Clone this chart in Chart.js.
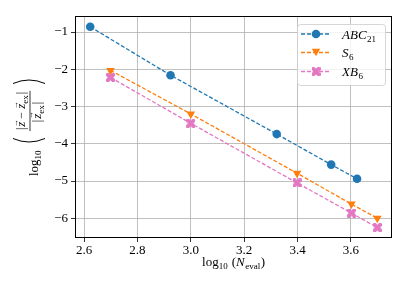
<!DOCTYPE html>
<html>
<head>
<meta charset="utf-8">
<script src="https://cdn.jsdelivr.net/npm/chart.js@4.4.0/dist/chart.umd.min.js"></script>
<style>
  html, body { margin: 0; padding: 0; background: #fff; }
  canvas { display: block; }
</style>
</head>
<body>
<canvas id="errChart" width="409" height="290"></canvas>
<script>
// log10(N_eval) for each method
var logNAbc = [2.623, 2.924, 3.322, 3.526, 3.623];
var logNS = [2.699, 3.0, 3.398, 3.602, 3.699];
// log10 of the relative error
var errAbc = [-0.86, -2.16, -3.74, -4.56, -4.94];
var errS6 = [-2.03, -3.20, -4.79, -5.62, -6.00];
var errXB6 = [-2.22, -3.45, -5.05, -5.86, -6.25];

var xTicks = [2.6, 2.8, 3.0, 3.2, 3.4, 3.6];
var yTicks = [-1, -2, -3, -4, -5, -6];
// legend names: [base, subscript]
var names = [['ABC', '21'], ['S', '6'], ['XB', '6']];
var colors = ['#1f77b4', '#ff7f0e', '#e377c2'];

var serif = 'Liberation Serif';
function F(size, italic) {
    return (italic ? 'italic ' : '') + size + 'px "' + serif + '"';
}

function toPoints(xs, ys) {
    return xs.map(function(x, i) { return {x: x, y: ys[i]}; });
}

// filled "X" marker like matplotlib's 'X'
function makeXMarker(color, size) {
    var c = document.createElement('canvas');
    c.width = size; c.height = size;
    var g = c.getContext('2d');
    var h = size / 2, L = h * 1.3, a = L / 2.9;
    g.translate(h, h);
    g.rotate(Math.PI / 4);
    g.fillStyle = color;
    g.fillRect(-L, -a, 2 * L, 2 * a);
    g.fillRect(-a, -L, 2 * a, 2 * L);
    return c;
}
var xMarker = makeXMarker(colors[2], 9);

function runWidth(ctx, items) {
    var w = 0;
    items.forEach(function(it) {
        ctx.font = it.f;
        w += (it.gap || 0) + ctx.measureText(it.t).width;
    });
    return w;
}

function drawRun(ctx, items, x, y) {
    items.forEach(function(it) {
        x += it.gap || 0;
        ctx.font = it.f;
        var w = ctx.measureText(it.t).width;
        ctx.fillText(it.t, x, y + (it.dy || 0));
        if (it.vec) {
            ctx.font = F(8);
            var aw = ctx.measureText('\u2192').width;
            ctx.fillText('\u2192', x + w / 2 - aw / 2 + 1, y - 7.5);
        }
        x += w;
    });
    return x;
}

function drawMarker(ctx, idx, x, y) {
    ctx.fillStyle = colors[idx];
    ctx.beginPath();
    if (idx === 0) {
        ctx.arc(x, y, 4.3, 0, Math.PI * 2);
        ctx.fill();
    } else if (idx === 1) {
        ctx.moveTo(x - 4.2, y - 3.8);
        ctx.lineTo(x + 4.2, y - 3.8);
        ctx.lineTo(x, y + 3.8);
        ctx.closePath();
        ctx.fill();
    } else {
        ctx.drawImage(xMarker, x - 4.5, y - 4.5);
    }
}

var decor = {
    id: 'decor',
    afterDraw: function(chart) {
        var ctx = chart.ctx, ca = chart.chartArea;
        ctx.save();
        // spines
        ctx.strokeStyle = '#000';
        ctx.lineWidth = 1;
        ctx.strokeRect(Math.round(ca.left) + 0.5, Math.round(ca.top) + 0.5,
            Math.round(ca.right - ca.left) - 1, Math.round(ca.bottom - ca.top) - 1);

        // legend
        var lx = ca.right - 95, ly = ca.top + 8, lw = 88, lh = 61;
        ctx.beginPath();
        ctx.roundRect(lx + 0.5, ly + 0.5, lw, lh, 3);
        ctx.fillStyle = 'rgba(255,255,255,0.8)';
        ctx.fill();
        ctx.strokeStyle = '#cccccc';
        ctx.lineWidth = 0.8;
        ctx.stroke();
        var rows = [ly + 10, ly + 28.5, ly + 47.5];
        names.forEach(function(n, i) {
            var y = rows[i];
            ctx.strokeStyle = colors[i];
            ctx.lineWidth = 1.3;
            ctx.setLineDash([4, 2]);
            ctx.beginPath();
            ctx.moveTo(lx + 4, y);
            ctx.lineTo(lx + 33, y);
            ctx.stroke();
            ctx.setLineDash([]);
            drawMarker(ctx, i, lx + 19, y);
            ctx.fillStyle = '#000';
            ctx.textBaseline = 'alphabetic';
            ctx.textAlign = 'left';
            drawRun(ctx, [{t: n[0], f: F(13, true)}, {t: n[1], f: F(9), dy: 3, gap: 0.5}], lx + 45, y + 4.5);
        });

        // x label
        ctx.fillStyle = '#000';
        var xl = [
            {t: 'log', f: F(13)},
            {t: '10', f: F(9), dy: 3},
            {t: '(', f: F(13), gap: 4},
            {t: 'N', f: F(13, true)},
            {t: 'eval', f: F(9), dy: 3, gap: 0.5},
            {t: ')', f: F(13), gap: 0.5}
        ];
        var xw = runWidth(ctx, xl);
        drawRun(ctx, xl, (ca.left + ca.right) / 2 - xw / 2, 266);

        // y label, rotated; fraction bar at screen x = 30
        ctx.translate(30, (ca.top + ca.bottom) / 2);
        ctx.rotate(-Math.PI / 2);
        drawRun(ctx, [{t: 'log', f: F(13)}, {t: '10', f: F(9), dy: 3}], -49, 8);
        ctx.strokeStyle = '#000';
        ctx.lineWidth = 1;
        ctx.beginPath();
        ctx.moveTo(-11.5, -17);
        ctx.quadraticCurveTo(-18.5, -1, -11.5, 15);
        ctx.moveTo(43.5, -17);
        ctx.quadraticCurveTo(50.5, -1, 43.5, 15);
        ctx.stroke();
        var num = [
            {t: '|', f: F(12)},
            {t: 'z', f: F(13, true), vec: true, gap: 1},
            {t: '\u2212', f: F(12), gap: 3},
            {t: 'z', f: F(13, true), vec: true, gap: 3},
            {t: 'ex', f: F(9), dy: 3},
            {t: '|', f: F(12), gap: 1}
        ];
        var den = [
            {t: '|', f: F(12)},
            {t: 'z', f: F(13, true), vec: true, gap: 1},
            {t: 'ex', f: F(9), dy: 3},
            {t: '|', f: F(12), gap: 1}
        ];
        var nw = runWidth(ctx, num), dw = runWidth(ctx, den);
        drawRun(ctx, num, 16 - nw / 2, -5);
        drawRun(ctx, den, 15 - dw / 2, 10.5);
        ctx.lineWidth = 0.8;
        ctx.beginPath();
        ctx.moveTo(16 - nw / 2 - 1, 0);
        ctx.lineTo(16 + nw / 2 + 1, 0);
        ctx.stroke();
        ctx.restore();
    }
};

var datasets = [
    {data: toPoints(logNAbc, errAbc), pointStyle: 'circle', pointRadius: 4.3},
    {data: toPoints(logNS, errS6), pointStyle: 'triangle', pointRadius: 5, pointRotation: 180},
    {data: toPoints(logNS, errXB6), pointStyle: xMarker, pointRadius: 4.5}
].map(function(d, i) {
    d.label = names[i].join('');
    d.borderColor = colors[i];
    d.backgroundColor = colors[i];
    d.pointBackgroundColor = colors[i];
    d.pointBorderWidth = 0;
    d.borderWidth = 1.3;
    d.borderDash = [4, 2];
    d.fill = false;
    d.tension = 0;
    d.order = 2 - i;
    return d;
});

var tickFont = {family: serif, size: 13};
var gridOpts = {color: '#b0b0b0', lineWidth: 0.8, tickColor: '#000', tickLength: 4, tickWidth: 0.8};

var ctx = document.getElementById('errChart').getContext('2d');
var myChart = new Chart(ctx, {
    type: 'line',
    data: {datasets: datasets},
    plugins: [decor],
    options: {
        responsive: false,
        animation: false,
        devicePixelRatio: 1,
        layout: {padding: {top: 16, right: 17, left: 0, bottom: 0}},
        plugins: {legend: {display: false}, tooltip: {enabled: false}},
        scales: {
            x: {
                type: 'linear',
                min: 2.566,
                max: 3.754,
                afterBuildTicks: function(s) { s.ticks = xTicks.map(function(v) { return {value: v}; }); },
                afterFit: function(s) { s.height = 52; },
                ticks: {
                    font: tickFont, color: '#000', padding: 1, maxRotation: 0, autoSkip: false,
                    callback: function(v) { return v.toFixed(1); }
                },
                grid: gridOpts,
                border: {display: false}
            },
            y: {
                min: -6.53,
                max: -0.57,
                afterBuildTicks: function(s) { s.ticks = yTicks.map(function(v) { return {value: v}; }); },
                afterFit: function(s) { s.width = 75; },
                ticks: {
                    font: tickFont, color: '#000', padding: 3, autoSkip: false,
                    callback: function(v) { return (v < 0 ? '\u2212' : '') + Math.abs(v); }
                },
                grid: gridOpts,
                border: {display: false}
            }
        }
    }
});
</script>
</body>
</html>
